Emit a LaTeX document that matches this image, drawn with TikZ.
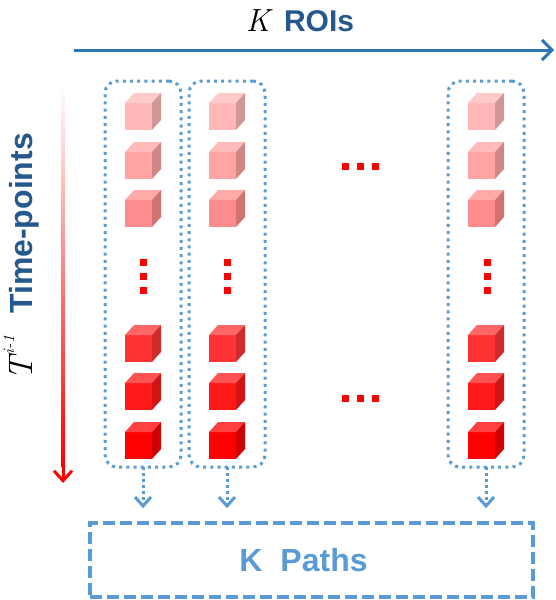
\documentclass[tikz,border=0pt]{standalone}
\usepackage{fontspec}
\newfontfamily\arial{Liberation Sans}
\usetikzlibrary{arrows.meta}
\definecolor{topblue}{HTML}{2E75B6}
\definecolor{darkblue}{HTML}{25588C}
\definecolor{lightblue}{HTML}{5B9BD5}
\definecolor{cubeA}{HTML}{FFB8B8}
\definecolor{cubeB}{HTML}{FFA3A3}
\definecolor{cubeC}{HTML}{FF8C8C}
\definecolor{cubeD}{HTML}{FF3333}
\definecolor{cubeE}{HTML}{FF1A1A}
\definecolor{cubeF}{HTML}{FF0000}
\newcommand\drawcube[3]{%
  \fill[#3] (#1,#2) rectangle ++(27,27);
  \fill[#3!75!white] (#1,#2) -- ++(9,-10) -- ++(27,0) -- ++(-9,10) -- cycle;
  \fill[#3!82!black] (#1+27,#2) -- ++(9,-10) -- ++(0,27) -- ++(-9,10) -- cycle;
}
\begin{document}
\begin{tikzpicture}[x=1pt,y=-1pt,
  colbox/.style={draw=lightblue, line width=3pt, dash pattern=on 3pt off 4.2pt,
    rounded corners=12pt, minimum width=76pt, minimum height=386pt, inner sep=0pt, outer sep=0pt},
  pathbox/.style={draw=lightblue, line width=3.5pt, dash pattern=on 12pt off 5pt,
    minimum width=443pt, minimum height=74pt, inner sep=0pt},
  dotarrow/.style={draw=lightblue, line width=3pt, dash pattern=on 3pt off 3pt,
    -{Straight Barb[length=9pt,width=16pt,line width=3pt]}},
  reddot/.style={fill=red, minimum size=7pt, inner sep=0pt},
  lbl/.style={font=\fontsize{30}{36}\selectfont, inner sep=0pt}]
\useasboundingbox (0,0) rectangle (556,600);

% top axis
\coordinate (ts) at (74,50);
\coordinate (te) at (554,50);
\draw[topblue, line width=3pt, -{Straight Barb[length=10pt,width=20pt,line width=3pt]}] (ts) -- (te);
\node[lbl] (roilabel) at (300,21) {{\fontsize{32}{36}\selectfont\itshape K}\hspace{14pt}{\arial\bfseries\color{darkblue}ROIs}};

% left axis (gradient)
\coordinate (ls) at (63,84);
\coordinate (lm) at (63,466);
\coordinate (le) at (63,483);
\shade[top color=white, bottom color=red] (61.5,84) rectangle (64.5,467);
\draw[red, line width=3pt, -{Straight Barb[length=10pt,width=18pt,line width=3pt]}] (lm) -- (le);
\node[lbl, rotate=90, anchor=base] (tlabel) at (32,257) {{\fontsize{34}{40}\selectfont\itshape T}\hspace{3pt}\raisebox{18pt}{\fontsize{16}{20}\selectfont\itshape i-1}\hspace{22pt}{\fontsize{32}{38}\selectfont\arial\bfseries\color{darkblue}Time-points}};

% column boxes
\node[colbox] (col1) at (143,274) {};
\node[colbox] (col2) at (227,274) {};
\node[colbox] (col3) at (486,274) {};

% cubes
\foreach \cx in {125,209,468}{
  \drawcube{\cx}{103}{cubeA}
  \drawcube{\cx}{152}{cubeB}
  \drawcube{\cx}{200}{cubeC}
  \drawcube{\cx}{335}{cubeD}
  \drawcube{\cx}{383}{cubeE}
  \drawcube{\cx}{432}{cubeF}
}

% vertical dots
\foreach \cx [count=\i] in {143,227,487}{
  \node[reddot] (vd\i a) at (\cx,262) {};
  \node[reddot] (vd\i b) at (\cx,276) {};
  \node[reddot] (vd\i c) at (\cx,290) {};
}
% horizontal dots
\foreach \cy [count=\i] in {166,398}{
  \node[reddot] (hd\i a) at (345,\cy) {};
  \node[reddot] (hd\i b) at (360,\cy) {};
  \node[reddot] (hd\i c) at (375,\cy) {};
}

% paths box
\node[pathbox] (paths) at (311.5,560) {\fontsize{32}{38}\selectfont\arial\bfseries\color{lightblue}K\hspace{18pt}Paths\hspace*{16pt}};

% dotted arrows
\foreach \c in {col1,col2,col3}{
  \draw[dotarrow, shorten >=13pt] (\c.south) -- (\c.south |- paths.north);
}
\end{tikzpicture}
\end{document}
